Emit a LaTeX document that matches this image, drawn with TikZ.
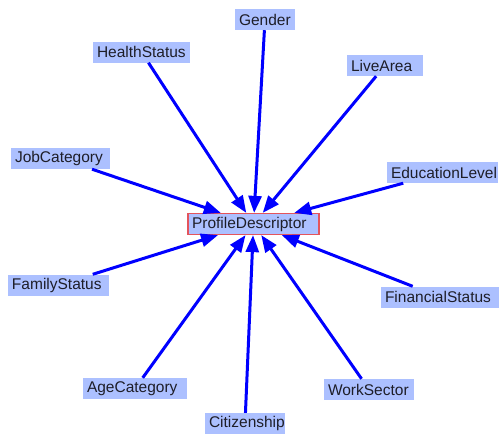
\documentclass[tikz,border=0pt]{standalone}
\usepackage{fontspec}
\setmainfont{Liberation Sans}
\usetikzlibrary{arrows.meta}
\definecolor{boxfill}{RGB}{172,192,255}
\definecolor{boxtext}{RGB}{30,30,40}
\definecolor{rootedge}{RGB}{228,84,92}
\definecolor{linkblue}{RGB}{0,0,255}
\tikzset{
  attr/.style={rectangle, fill=boxfill, text=boxtext, inner xsep=4pt, inner ysep=0pt,
    minimum height=21pt, align=left, font=\fontsize{15.5}{17}\selectfont},
  root/.style={attr, draw=rootedge, line width=1.2pt},
  link/.style={draw=linkblue, line width=3pt,
    -{Triangle[length=17pt,width=13pt]}}
}
\begin{document}
\begin{tikzpicture}[x=1pt,y=-1pt]
\useasboundingbox[fill=white] (0,0) rectangle (502,437);

\node[root, text width=123pt] (pd) at (253.5,224) {ProfileDescriptor};

\node[attr, text width=52pt]  (gender)    at (265,19.5)  {Gender};
\node[attr, text width=89pt]  (health)    at (141.5,52)  {HealthStatus};
\node[attr, text width=68pt]  (live)      at (385,65.5)  {LiveArea};
\node[attr, text width=91pt]  (job)       at (60.5,158.5) {JobCategory};
\node[attr, text width=103pt] (edu)       at (442.5,172.5) {EducationLevel};
\node[attr, text width=93pt]  (family)    at (58.5,285)  {FamilyStatus};
\node[attr, text width=110pt] (financial) at (440,297)   {FinancialStatus};
\node[attr, text width=96pt]  (age)       at (135,388.5) {AgeCategory};
\node[attr, text width=82pt]  (work)      at (369,389.5) {WorkSector};
\node[attr, text width=72pt]  (citizen)   at (245,423.5) {Citizenship};

\foreach \src in {gender,health,live,job,edu,family,financial,age,work,citizen}
  \draw[link] (\src) -- (pd);
\end{tikzpicture}
\end{document}
